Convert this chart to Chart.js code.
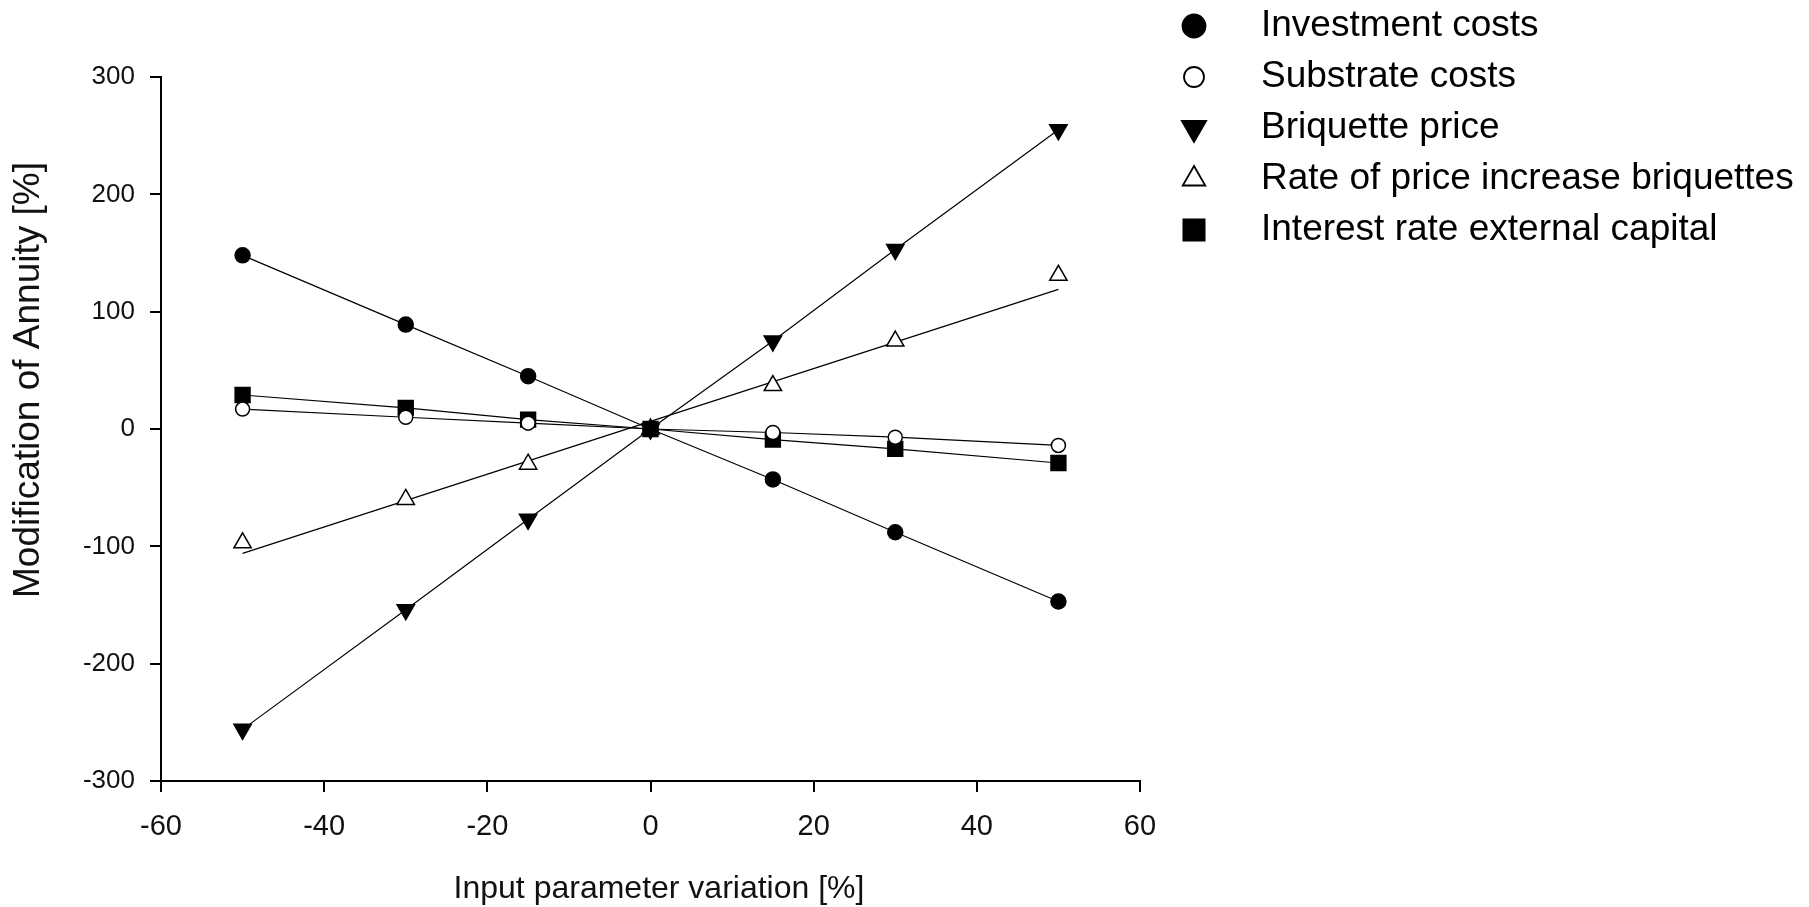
<!DOCTYPE html>
<html>
<head>
<meta charset="utf-8">
<script src="https://cdn.jsdelivr.net/npm/chart.js@4.4.1/dist/chart.umd.min.js"></script>
<style>
  html,body{margin:0;padding:0;background:#fff;}
  canvas{display:block;}
</style>
</head>
<body>
<canvas id="ch-annuity" width="1809" height="907"></canvas>
<script>
// x positions of the variation steps [%]
const xVals = [-50, -30, -15, 0, 15, 30, 50];

// modification of annuity [%] per input parameter
const investment   = [148, 89, 45, 0, -43, -88, -147];
const substrate    = [17, 10, 5, 0, -3, -7, -14];
const briquette    = [-256, -154, -77, 0, 75, 153, 255];
const rateIncrease = [-97, -60, -30, 0, 37, 75, 131];
const interest     = [29, 18, 8, 0, -9, -17, -29];

// fitted line drawn for the rate-of-price-increase series (ends)
const rateFitX = [-50, 50];
const rateFitY = [-106, 119];

const seriesNames = ['Investment costs', 'Substrate costs', 'Briquette price',
                     'Rate of price increase briquettes', 'Interest rate external capital'];

const xTicks = [-60, -40, -20, 0, 20, 40, 60];
const yTicks = [-300, -200, -100, 0, 100, 200, 300];

const FONT = '"Liberation Sans", Arial, sans-serif';
const INK = '#000';

const marks = [
  {style:'circle',   fill:INK,    r:7.5,  rot:0,   legR:11.5},
  {style:'circle',   fill:'#fff', r:7,    rot:0,   legR:10},
  {style:'triangle', fill:INK,    r:10,   rot:180, legR:14},
  {style:'triangle', fill:'#fff', r:10,   rot:0,   legR:13},
  {style:'rect',     fill:INK,    r:10.5, rot:0,   legR:15}
];

const pts = ys => xVals.map((x,i)=>({x, y:ys[i]}));

const series = [investment, substrate, briquette, rateIncrease, interest];
const datasets = series.map((ys,i)=>({
  label: seriesNames[i],
  data: pts(ys),
  showLine: i!==3,
  borderColor: INK, borderWidth: 1.2,
  pointStyle: marks[i].style, pointRotation: marks[i].rot,
  pointRadius: marks[i].r, pointHoverRadius: marks[i].r,
  pointBackgroundColor: marks[i].fill, pointBorderColor: INK, pointBorderWidth: 1.5
}));
datasets.push({
  label: 'fit',
  data: rateFitX.map((x,i)=>({x, y:rateFitY[i]})),
  showLine: true, borderColor: INK, borderWidth: 1.2, pointRadius: 0
});

// legend + axis titles drawn at the spots used in the figure
const extras = {
  id: 'extras',
  afterDraw(chart) {
    const ctx = chart.ctx;
    ctx.save();
    ctx.font = '37px ' + FONT;
    ctx.textBaseline = 'middle';
    seriesNames.forEach((name,i)=>{
      const y = 26 + i*51;
      ctx.fillStyle = marks[i].fill; ctx.strokeStyle = INK; ctx.lineWidth = 1.8;
      Chart.helpers.drawPoint(ctx, {pointStyle:marks[i].style, radius:marks[i].legR,
        rotation:marks[i].rot, borderWidth:1.8}, 1194, y);
      ctx.fillStyle = INK;
      ctx.fillText(name, 1261, y);
    });

    ctx.fillStyle = '#111';
    ctx.textAlign = 'center';
    ctx.font = '32px ' + FONT;
    ctx.fillText('Input parameter variation [%]', 659, 889);

    ctx.translate(29, 380);
    ctx.rotate(-Math.PI/2);
    ctx.font = '37px ' + FONT;
    ctx.fillText('Modification of Annuity [%]', 0, 0);
    ctx.restore();
  }
};

const axisGrid = {display:true, drawOnChartArea:false, drawTicks:true, tickLength:11, color:INK, lineWidth:2};

new Chart(document.getElementById('ch-annuity'), {
  type: 'scatter',
  data: {datasets},
  options: {
    responsive:false, animation:false, devicePixelRatio:1,
    layout:{padding:{left:0, top:77, right:669, bottom:0}},
    plugins:{legend:{display:false}, tooltip:{enabled:false}},
    elements:{line:{tension:0}},
    scales:{
      x:{type:'linear', min:-60, max:60,
        afterBuildTicks: s=>{ s.ticks = xTicks.map(v=>({value:v})); },
        afterFit: s=>{ s.height = 126; },
        grid:axisGrid, border:{display:true, color:INK, width:2},
        ticks:{font:{family:FONT, size:29}, color:'#111', padding:18}},
      y:{type:'linear', min:-300, max:300,
        afterBuildTicks: s=>{ s.ticks = yTicks.map(v=>({value:v})); },
        afterFit: s=>{ s.width = 161; },
        grid:axisGrid, border:{display:true, color:INK, width:2},
        ticks:{font:{family:FONT, size:26}, color:'#111', padding:15}}
    }
  },
  plugins:[extras]
});
</script>
</body>
</html>
